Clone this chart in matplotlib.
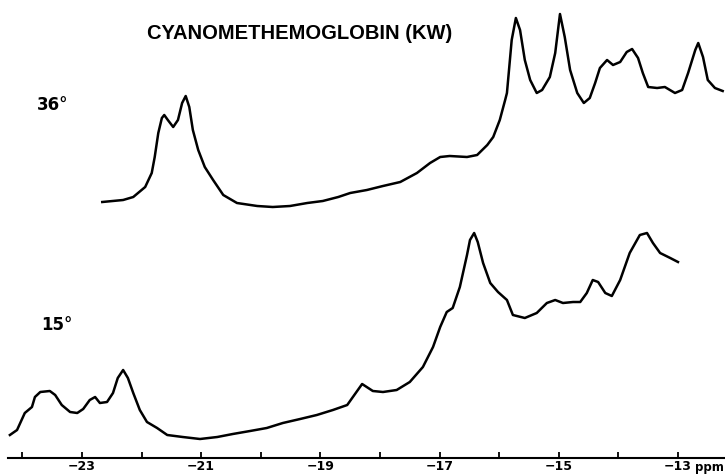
import matplotlib
matplotlib.use('Agg')
import matplotlib.pyplot as plt
import numpy as np

########################################################
# Data (chemical shift in ppm, signal in arbitrary units)
########################################################

ppm_36 = [-22.66, -22.31, -22.14, -21.94, -21.83, -21.78, -21.72, -21.66, -21.62, -21.56,
          -21.47, -21.39, -21.32, -21.26, -21.20, -21.14, -21.05, -20.94, -20.80, -20.63,
          -20.40, -20.06, -19.80, -19.51, -19.22, -18.96, -18.70, -18.50, -18.22, -17.95,
          -17.66, -17.38, -17.16, -16.99, -16.83, -16.54, -16.37, -16.20, -16.10, -15.99,
          -15.90, -15.87, -15.79, -15.72, -15.65, -15.57, -15.48, -15.37, -15.28, -15.15,
          -15.06, -14.98, -14.90, -14.81, -14.69, -14.58, -14.48, -14.39, -14.31, -14.19,
          -14.09, -13.97, -13.86, -13.77, -13.67, -13.59, -13.50, -13.35, -13.22, -13.05,
          -12.93, -12.83, -12.71, -12.66, -12.58, -12.50, -12.38, -12.25]
sig_36 = [5, 7, 10, 20, 34, 50, 74, 89, 92, 87,
          80, 87, 104, 111, 100, 77, 57, 40, 27, 12,
          4, 1, 0, 1, 4, 6, 10, 14, 17, 21,
          25, 34, 44, 50, 51, 50, 52, 62, 70, 87,
          107, 114, 167, 189, 177, 147, 127, 114, 117, 130,
          154, 193, 170, 137, 114, 104, 109, 124, 139, 147,
          142, 145, 155, 158, 149, 134, 120, 119, 120, 114,
          117, 134, 157, 164, 150, 127, 119, 116]

ppm_15 = [-24.21, -24.09, -23.96, -23.84, -23.79, -23.70, -23.54, -23.45, -23.34, -23.20,
          -23.08, -22.98, -22.87, -22.78, -22.70, -22.58, -22.48, -22.40, -22.31, -22.23,
          -22.14, -22.03, -21.91, -21.74, -21.57, -21.31, -21.02, -20.73, -20.47, -20.18,
          -19.90, -19.63, -19.34, -19.06, -18.79, -18.55, -18.30, -18.12, -17.95, -17.72,
          -17.50, -17.28, -17.11, -16.99, -16.88, -16.78, -16.66, -16.54, -16.49, -16.42,
          -16.36, -16.27, -16.15, -16.02, -15.87, -15.77, -15.57, -15.37, -15.20, -15.06,
          -14.93, -14.76, -14.64, -14.53, -14.43, -14.34, -14.22, -14.11, -13.97, -13.81,
          -13.64, -13.52, -13.42, -13.30, -13.13, -13.00]
sig_15 = [4, 9, 26, 32, 42, 47, 48, 44, 34, 27,
          26, 30, 39, 42, 36, 37, 46, 61, 69, 61,
          46, 29, 17, 11, 4, 2, 0, 2, 5, 8,
          11, 16, 20, 24, 29, 34, 55, 48, 47, 49,
          57, 72, 92, 112, 127, 131, 152, 184, 199, 206,
          197, 176, 156, 147, 139, 124, 121, 126, 136, 139,
          136, 137, 137, 146, 159, 157, 146, 143, 159, 186,
          204, 206, 196, 186, 181, 177]

major_ticks = [-23, -21, -19, -17, -15, -13]
minor_ticks = [-24, -22, -20, -18, -16, -14]
tick_labels = ['\u221223', '\u221221', '\u221219', '\u221217', '\u221215', '\u221213']

# vertical stacking of the two temperatures
offset_36 = 251
offset_15 = 19

########################################################
# Plot
########################################################

fig = plt.figure(figsize=(7.25, 4.75), dpi=100)
ax = fig.add_axes([0, 17 / 475, 1, 458 / 475])

ax.plot(ppm_36, np.array(sig_36) + offset_36, color='black', lw=1.8, solid_joinstyle='round')
ax.plot(ppm_15, np.array(sig_15) + offset_15, color='black', lw=1.8, solid_joinstyle='round')

ax.set_xlim(-24.376, -12.211)
ax.set_ylim(0, 458)

for side in ['top', 'left', 'right']:
    ax.spines[side].set_visible(False)
ax.spines['bottom'].set_linewidth(1.5)
ax.spines['bottom'].set_bounds(-24.24, -12.211)
ax.set_yticks([])

ax.set_xticks(major_ticks)
ax.set_xticklabels(tick_labels, fontdict={'weight': 'bold', 'size': 9})
ax.set_xticks(minor_ticks, minor=True)
ax.tick_params(axis='x', which='both', direction='in', length=4, width=1.3, pad=1.5)

ax.text(-12.72, -3, 'ppm', fontsize=8.5, fontweight='bold', va='top', ha='left', clip_on=False)

fig.text(0.413, 0.929, 'CYANOMETHEMOGLOBIN (KW)', family=['Liberation Sans', 'DejaVu Sans'],
         fontsize=14.5, fontweight='bold', ha='center', va='center')
fig.text(0.072, 0.779, '36\u00b0', fontsize=12, fontweight='bold', ha='center', va='center')
fig.text(0.079, 0.316, '15\u00b0', fontsize=12, fontweight='bold', ha='center', va='center')

fig.savefig('out.png', dpi=100)
